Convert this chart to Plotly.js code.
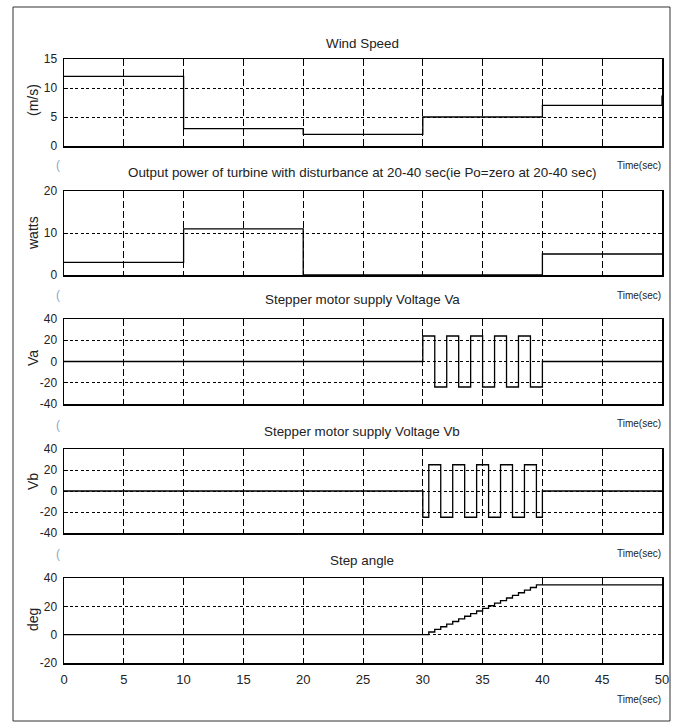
<!DOCTYPE html>
<html>
<head>
<meta charset="utf-8">
<script src="https://cdn.plot.ly/plotly-3.0.1.min.js"></script>
<style>html,body{margin:0;padding:0;background:#fff;}#chart{width:677px;height:726px;}</style>
</head>
<body>
<div id="chart"></div>
<script>
// ---------- data ----------
const windT = [0, 10, 20, 30, 40, 50, 50];
const windV = [12, 3, 2, 5, 7, 7, 8.7];

const powerT = [0, 10, 20, 40, 50];
const powerV = [3, 11, 0, 5, 5];

const vaT = [0, 30, 31, 32, 33, 34, 35, 36, 37, 38, 39, 40, 50];
const vaV = [0, 24, -24, 24, -24, 24, -24, 24, -24, 24, -24, 0, 0];

const vbT = [0, 30, 30.5, 31.5, 32.5, 33.5, 34.5, 35.5, 36.5, 37.5, 38.5, 39.5, 40, 50];
const vbV = [0, -25, 25, -25, 25, -25, 25, -25, 25, -25, 25, -25, 0, 0];

const angT = [0, 30, 30.5, 31, 31.5, 32, 32.5, 33, 33.5, 34, 34.5, 35, 35.5, 36, 36.5, 37, 37.5, 38, 38.5, 39, 39.5, 50];
const angV = [0, 0, 1.9, 3.7, 5.6, 7.4, 9.3, 11.1, 13, 14.8, 16.7, 18.5, 20.4, 22.2, 24.1, 25.9, 27.8, 29.6, 31.5, 33.3, 35.2, 35.2];

const panelTitles = [
  "Wind Speed",
  "Output power of turbine with disturbance at 20-40 sec(ie Po=zero at 20-40 sec)",
  "Stepper motor supply Voltage Va",
  "Stepper motor supply Voltage Vb",
  "Step angle"
];
const yTitles = ["(m/s)", "watts", "Va", "Vb", "deg"];
const yRanges = [[0, 15], [0, 20], [-40, 40], [-40, 40], [-20, 40]];
const yTicks = [[0, 5, 10, 15], [0, 10, 20], [-40, -20, 0, 20, 40], [-40, -20, 0, 20, 40], [-20, 0, 20, 40]];
const yTickText = [["0", "5", "10", "15"], ["0", "10", "20"], ["-40", "-20", "0", "20", "40"], ["-40", "-20", "0", "20", "40"], ["-20", "0", "20", "40"]];
const xTicks = [0, 5, 10, 15, 20, 25, 30, 35, 40, 45, 50];
const xLabel = "Time(sec)";

// ---------- layout helpers (pixel geometry) ----------
const W = 677, H = 726;
const L = 64, R = 662, T = 59, B = 663;
const px = x => (x - L) / (R - L);
const py = y => (B - y) / (B - T);

const FONT = "'Liberation Sans', Arial, sans-serif";
const domainsPx = [[59, 146], [191, 275], [319, 404], [449, 533], [578, 663]];
const titleY = [43, 172, 299, 431, 560];
const yTitleY = [100, 233, 358, 482, 620];
const timeY = [166, 295, 424, 553, 699];
const parenY = [165, 295, 425, 554];

const series = [[windT, windV], [powerT, powerV], [vaT, vaV], [vbT, vbV], [angT, angV]];

const data = series.map((s, i) => ({
  x: s[0], y: s[1], type: 'scatter', mode: 'lines',
  line: {color: '#000', width: 1.3, shape: 'hv'},
  xaxis: i === 0 ? 'x' : 'x' + (i + 1),
  yaxis: i === 0 ? 'y' : 'y' + (i + 1),
  hoverinfo: 'skip', showlegend: false
}));

const layout = {
  width: W, height: H,
  margin: {l: L, r: W - R, t: T, b: H - B, pad: 0},
  paper_bgcolor: '#fff', plot_bgcolor: '#fff',
  font: {family: FONT, color: '#222', size: 13},
  showlegend: false,
  annotations: [], shapes: []
};

for (let i = 0; i < 5; i++) {
  const sx = i === 0 ? '' : String(i + 1);
  const d = domainsPx[i];
  layout['xaxis' + sx] = {
    domain: [0, 1], anchor: 'y' + sx, range: [0, 50],
    tickvals: xTicks, showticklabels: i === 4,
    ticks: 'inside', ticklen: 4, tickcolor: '#000',
    showline: true, linecolor: '#000', linewidth: 1.5, mirror: 'ticks',
    showgrid: true, gridcolor: '#000', gridwidth: 1, griddash: '7px,3px',
    zeroline: false, fixedrange: true, ticklabelstandoff: 4,
    tickfont: {family: FONT, size: 13, color: '#222'}
  };
  layout['yaxis' + sx] = {
    domain: [py(d[1]), py(d[0])], anchor: 'x' + sx, range: yRanges[i],
    tickvals: yTicks[i], ticktext: yTickText[i],
    ticks: 'inside', ticklen: 4, tickcolor: '#000',
    showline: true, linecolor: '#000', linewidth: 1.5, mirror: 'ticks',
    showgrid: true, gridcolor: '#000', gridwidth: 1, griddash: '3px,2.5px',
    zeroline: false, fixedrange: true, ticklabelstandoff: 3,
    tickfont: {family: FONT, size: 12, color: '#222'}
  };
  layout.annotations.push({
    xref: 'paper', yref: 'paper', x: px(33), y: py(yTitleY[i]),
    xanchor: 'center', yanchor: 'middle', showarrow: false, textangle: -90,
    text: yTitles[i], font: {family: FONT, size: 14, color: '#222'}
  });
  layout.annotations.push({
    xref: 'paper', yref: 'paper', x: px(362), y: py(titleY[i]),
    xanchor: 'center', yanchor: 'middle', showarrow: false,
    text: panelTitles[i], font: {family: FONT, size: 13.4, color: '#222'}
  });
  layout.annotations.push({
    xref: 'paper', yref: 'paper', x: px(663), y: py(timeY[i]),
    xanchor: 'right', yanchor: 'middle', showarrow: false,
    text: xLabel, font: {family: FONT, size: 10, color: '#222'}
  });
}
parenY.forEach(y => layout.annotations.push({
  xref: 'paper', yref: 'paper', x: px(58), y: py(y),
  xanchor: 'center', yanchor: 'middle', showarrow: false,
  text: '(', font: {family: FONT, size: 12, color: '#8fa6c0'}
}));
layout.shapes.push({
  type: 'rect', xref: 'paper', yref: 'paper',
  x0: px(13), x1: px(670), y0: py(721), y1: py(7),
  line: {color: '#333', width: 1}, fillcolor: 'rgba(0,0,0,0)', layer: 'below'
});

Plotly.newPlot('chart', data, layout, {staticPlot: true, displayModeBar: false});
</script>
</body>
</html>
